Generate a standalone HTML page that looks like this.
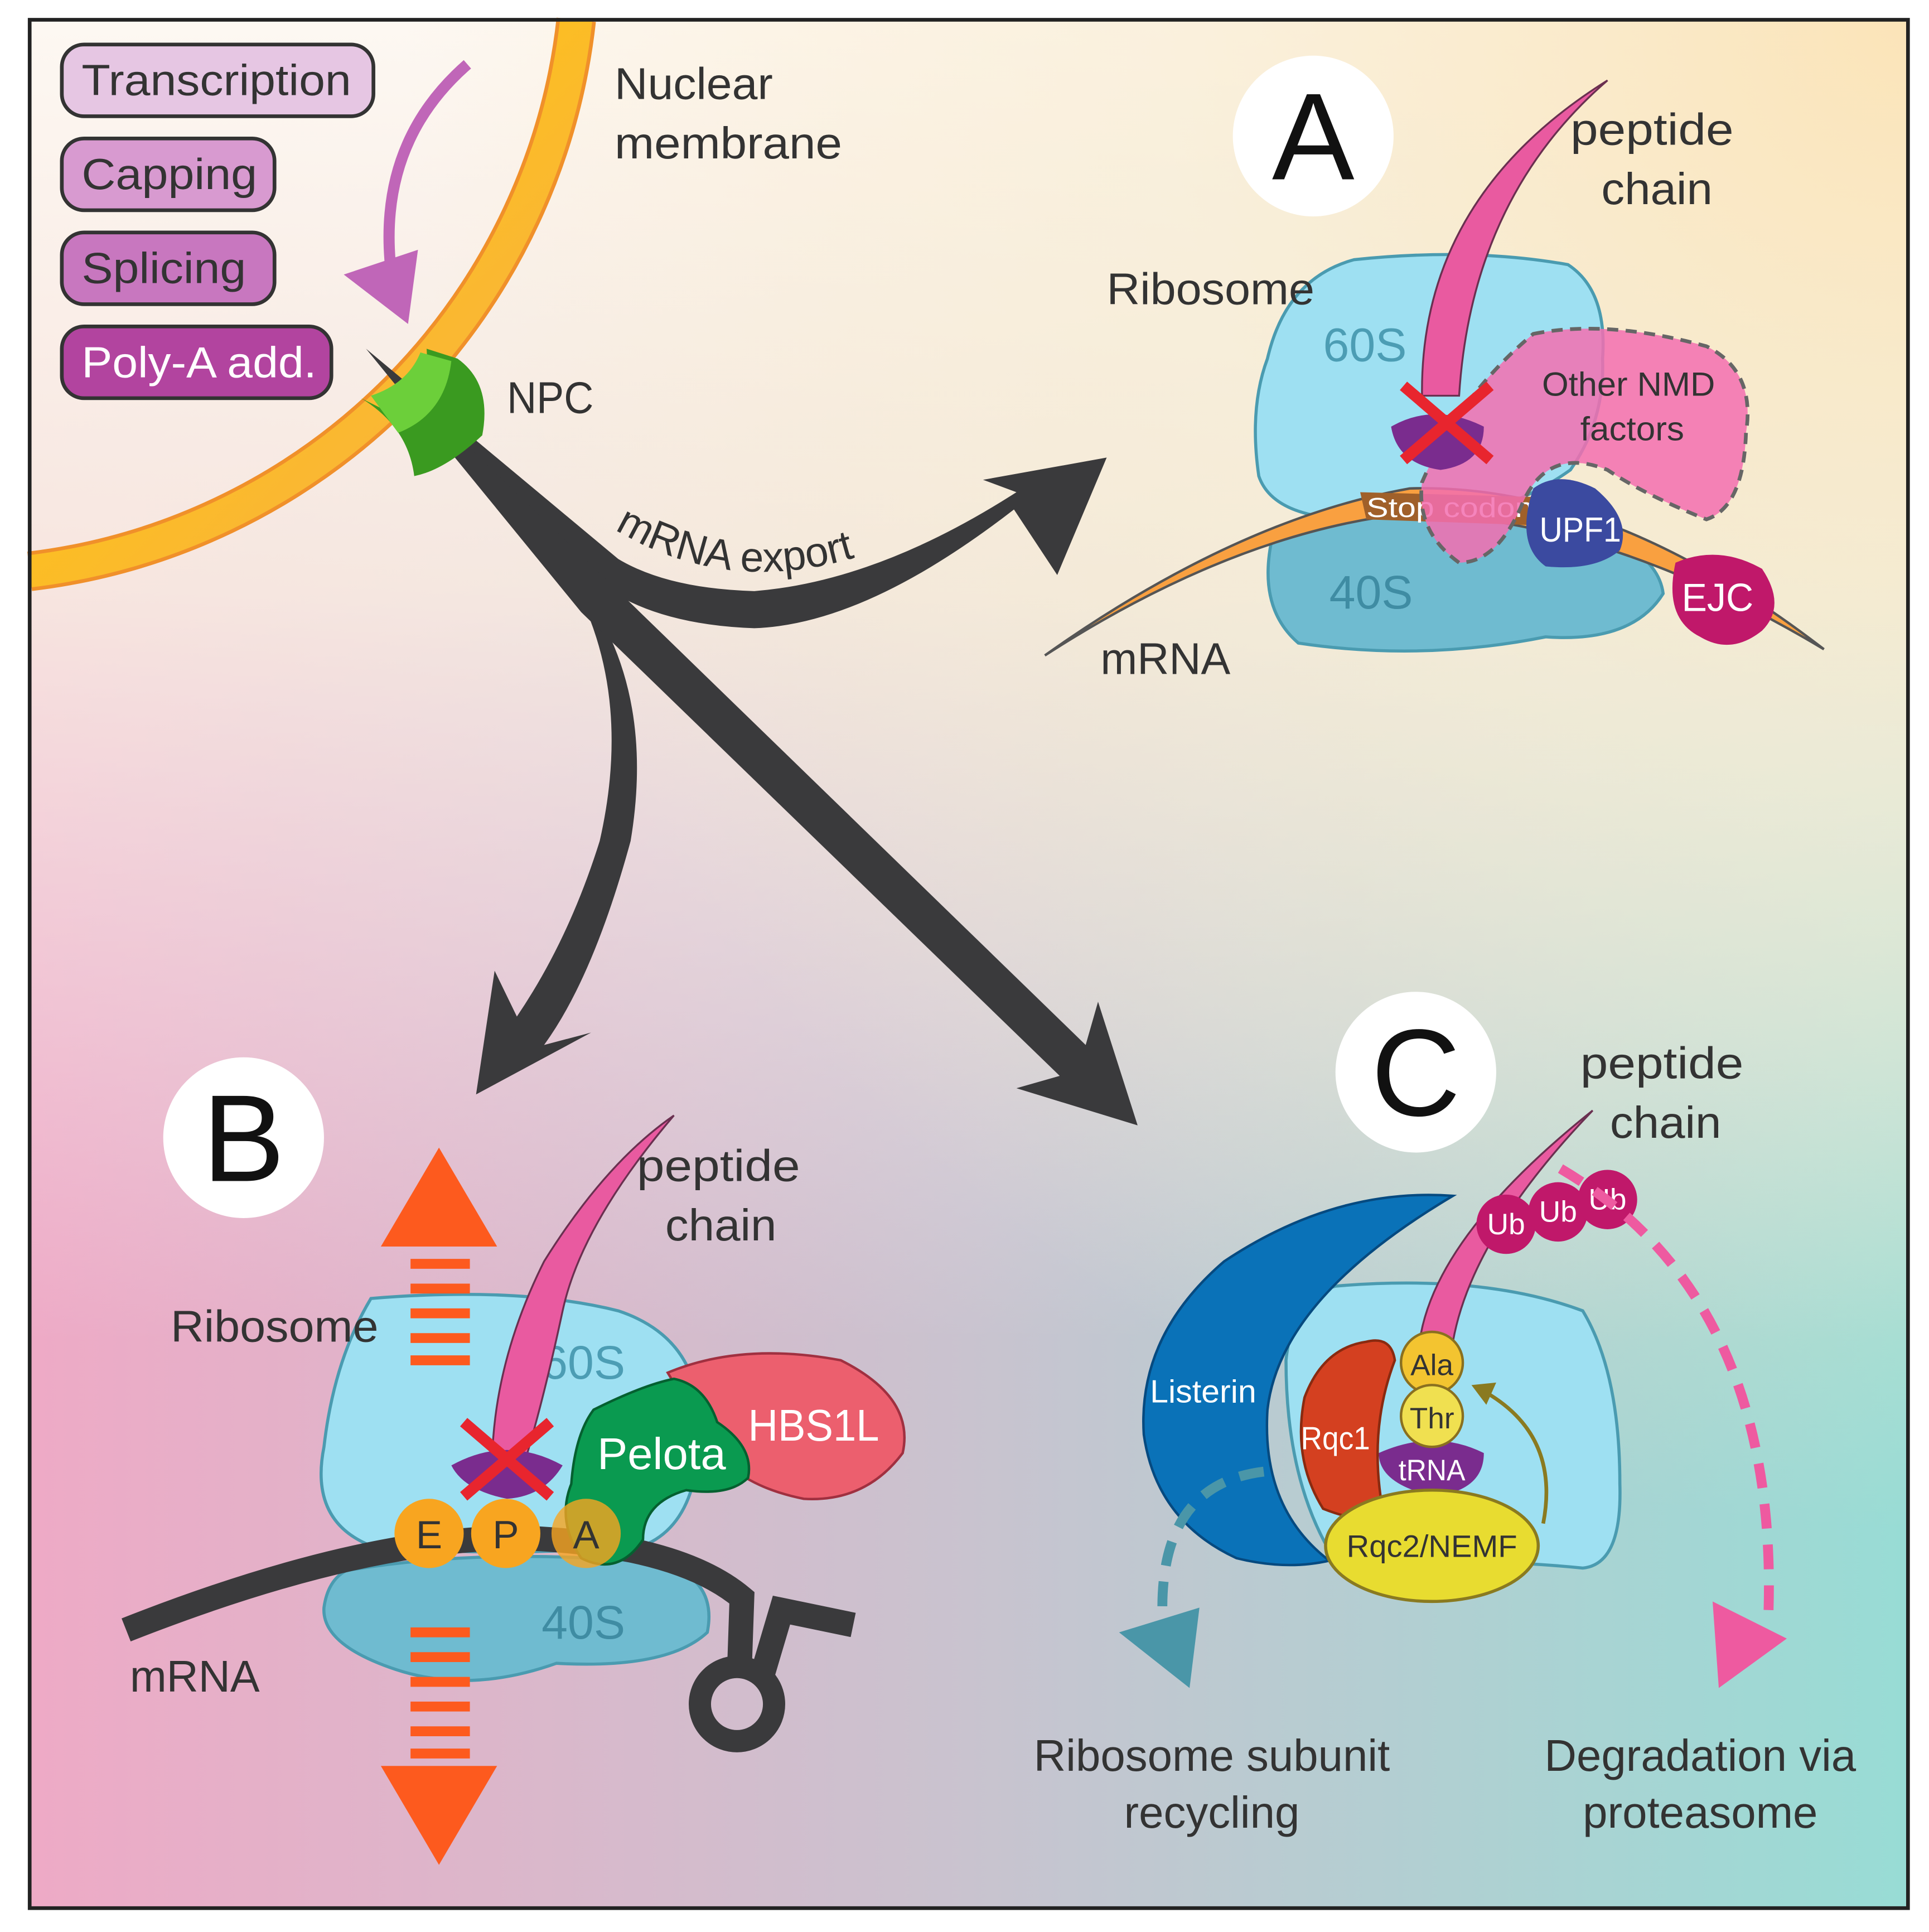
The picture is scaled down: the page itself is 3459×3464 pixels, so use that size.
<!DOCTYPE html>
<html><head><meta charset="utf-8"><style>
html,body{margin:0;padding:0;background:#fff}
svg{display:block}
text{font-family:"Liberation Sans",sans-serif}
</style></head><body>
<svg width="3459" height="3464" viewBox="0 0 1560 1562.3" preserveAspectRatio="none" xmlns="http://www.w3.org/2000/svg">
<defs>
<linearGradient id="gx" x1="0" y1="0" x2="1" y2="0">
<stop offset="0" stop-color="#eeaac6"/><stop offset="0.5" stop-color="#c9c3cf"/><stop offset="1" stop-color="#98dcd5"/></linearGradient>
<linearGradient id="gy" x1="0" y1="0" x2="0" y2="1">
<stop offset="0" stop-color="#fdf8f2" stop-opacity="1"/><stop offset="0.3" stop-color="#f9f0e4" stop-opacity="0.85"/><stop offset="0.7" stop-color="#f4eaf0" stop-opacity="0"/></linearGradient>
<radialGradient id="gtr" cx="1" cy="0" r="0.8">
<stop offset="0" stop-color="#fbe4b8" stop-opacity="1"/><stop offset="0.5" stop-color="#f8ecd0" stop-opacity="0.6"/><stop offset="1" stop-color="#fbe8c4" stop-opacity="0"/></radialGradient>
<linearGradient id="gm" x1="0" y1="0" x2="1" y2="1">
<stop offset="0" stop-color="#ffcc00"/><stop offset="1" stop-color="#f8ae4a"/></linearGradient>
<path id="exp" d="M497 428 Q600 490 722 440"/>
</defs>
<rect x="0" y="0" width="1560" height="1563" fill="#fff"/>
<rect x="24" y="16" width="1519" height="1527" fill="url(#gx)"/>
<rect x="24" y="16" width="1519" height="1527" fill="url(#gy)"/>
<rect x="24" y="16" width="1519" height="1527" fill="url(#gtr)"/>
<!-- membrane -->
<path d="M24 462 A505 505 0 0 0 466 16" fill="none" stroke="#f0902a" stroke-width="32"/>
<path d="M24 462 A505 505 0 0 0 466 16" fill="none" stroke="url(#gm)" stroke-width="26"/>
<rect x="24" y="16" width="1519" height="1527" fill="none" stroke="#222" stroke-width="3"/>
<!-- boxes -->
<g font-size="35" fill="#333">
<rect x="50" y="36" width="252" height="58" rx="18" fill="#e6c6e3" stroke="#333" stroke-width="3"/>
<text x="66" y="77" textLength="218" lengthAdjust="spacingAndGlyphs">Transcription</text>
<rect x="50" y="112" width="172" height="58" rx="18" fill="#d89ad0" stroke="#333" stroke-width="3"/>
<text x="66" y="153" textLength="142" lengthAdjust="spacingAndGlyphs">Capping</text>
<rect x="50" y="188" width="172" height="58" rx="18" fill="#c877bf" stroke="#333" stroke-width="3"/>
<text x="66" y="229" textLength="133" lengthAdjust="spacingAndGlyphs">Splicing</text>
<rect x="50" y="264" width="218" height="58" rx="18" fill="#b2449f" stroke="#333" stroke-width="3"/>
<text x="66" y="305" fill="#fff" textLength="190" lengthAdjust="spacingAndGlyphs">Poly-A add.</text>
</g>
<path d="M378 52 Q300 120 318 232" fill="none" stroke="#c066b8" stroke-width="9"/>
<path d="M278 222 L330 262 L338 202 Z" fill="#c066b8"/>
<g font-size="36" fill="#333">
<text x="497" y="80" textLength="128" lengthAdjust="spacingAndGlyphs">Nuclear</text>
<text x="497" y="128" textLength="184" lengthAdjust="spacingAndGlyphs">membrane</text>
<text x="410" y="334" textLength="70" lengthAdjust="spacingAndGlyphs">NPC</text>
</g>
<!-- dark arrows -->
<path d="M296 282 L480 468 Q525 505 610 508 Q700 505 820 412 L855 465 L895 370 L795 388 L822 398 Q710 470 610 478 Q540 476 500 452 Z" fill="#3a3a3c"/>
<path d="M296 282 L472 478 Q530 560 510 680 Q480 790 440 845 L478 835 L385 885 L400 785 L418 822 Q460 760 485 680 Q510 570 470 484 Z" fill="#3a3a3c"/>
<path d="M296 282 L500 478 L878 845 L888 810 L920 910 L822 880 L857 870 L470 495 Z" fill="#3a3a3c"/>
<!-- NPC -->
<path d="M292 322 Q330 345 335 385 Q360 380 390 352 Q398 310 370 290 L345 282 Q348 320 320 336 Z" fill="#3a9a20"/>
<path d="M300 320 Q330 310 340 285 L365 292 Q360 335 322 350 Z" fill="#6ccf3a"/>
<text font-size="34" fill="#333"><textPath href="#exp">mRNA export</textPath></text>
<!-- Panel A -->
<circle cx="1062" cy="110" r="65" fill="#fff"/>
<text x="1062" y="145" font-size="100" text-anchor="middle" fill="#111">A</text>
<path d="M1095 210 Q1190 200 1268 214 Q1300 235 1296 290 Q1298 340 1270 380 Q1200 430 1100 420 Q1030 420 1018 385 Q1010 330 1025 290 Q1040 225 1095 210 Z" fill="#9ee0f2" stroke="#4a9bb0" stroke-width="2.5"/>
<g font-size="36" fill="#333">
<text x="1270" y="117" textLength="132" lengthAdjust="spacingAndGlyphs">peptide</text>
<text x="1295" y="165" textLength="90" lengthAdjust="spacingAndGlyphs">chain</text>
<text x="895" y="246" textLength="168" lengthAdjust="spacingAndGlyphs">Ribosome</text>
</g>
<path d="M1030 430 Q1120 400 1260 420 Q1340 440 1345 480 Q1320 520 1250 515 Q1150 535 1050 520 Q1015 490 1030 430 Z" fill="#6fbbd0" stroke="#4a9bb0" stroke-width="2.5"/>
<text x="1070" y="292" font-size="38" fill="#4c9db4">60S</text>
<text x="1075" y="492" font-size="38" fill="#3f8ca3">40S</text>
<path d="M845 530 Q1000 420 1140 395 Q1300 390 1475 525 Q1300 420 1140 415 Q1000 430 845 530 Z" fill="#f9a040" stroke="#555" stroke-width="2"/>
<path d="M1100 398 L1245 402 L1250 425 L1105 420 Z" fill="#a0602a"/>
<text x="1105" y="418" font-size="22" fill="#fff" textLength="135" lengthAdjust="spacingAndGlyphs">Stop codon</text>
<path d="M1240 270 Q1300 258 1380 280 Q1420 300 1412 350 Q1410 410 1380 420 Q1330 400 1300 380 Q1250 360 1230 410 Q1210 455 1180 455 Q1145 430 1150 390 Q1180 320 1240 270 Z" fill="#f36fb0" fill-opacity="0.85" stroke="#666" stroke-width="3" stroke-dasharray="9 6"/>
<text x="1247" y="320" font-size="27" fill="#333" textLength="140" lengthAdjust="spacingAndGlyphs">Other NMD</text>
<text x="1278" y="356" font-size="27" fill="#333" textLength="84" lengthAdjust="spacingAndGlyphs">factors</text>
<path d="M1150 320 Q1148 160 1300 65 Q1190 160 1180 320 Z" fill="#e95aa0" stroke="#6a3050" stroke-width="1.5"/>
<path d="M1125 345 Q1160 325 1200 345 Q1200 375 1165 380 Q1130 375 1125 345 Z" fill="#7a2c8e"/>
<path d="M1135 312 L1205 372 M1205 312 L1135 372" stroke="#e8252e" stroke-width="9"/>
<path d="M1240 395 Q1260 380 1290 395 Q1320 420 1310 445 Q1290 462 1250 458 Q1225 440 1240 395 Z" fill="#3b4aa0"/>
<text x="1245" y="438" font-size="28" fill="#fff" textLength="66" lengthAdjust="spacingAndGlyphs">UPF1</text>
<path d="M1355 455 Q1390 440 1425 460 Q1445 490 1425 510 Q1400 530 1375 515 Q1345 500 1355 455 Z" fill="#c0186a"/>
<text x="1360" y="494" font-size="32" fill="#fff" textLength="58" lengthAdjust="spacingAndGlyphs">EJC</text>
<text x="890" y="545" font-size="36" fill="#333" textLength="105" lengthAdjust="spacingAndGlyphs">mRNA</text>
<!-- Panel B -->
<circle cx="197" cy="920" r="65" fill="#fff"/>
<text x="197" y="955" font-size="100" text-anchor="middle" fill="#111">B</text>
<path d="M300 1050 Q420 1040 500 1060 Q560 1080 565 1140 Q570 1230 520 1250 Q400 1260 300 1250 Q250 1230 262 1170 Q270 1100 300 1050 Z" fill="#9ee0f2" stroke="#4a9bb0" stroke-width="2.5"/>
<path d="M280 1270 Q400 1250 540 1265 Q580 1280 572 1320 Q540 1350 450 1345 Q380 1370 320 1350 Q260 1330 262 1300 Q265 1278 280 1270 Z" fill="#6fbbd0" stroke="#4a9bb0" stroke-width="2.5"/>
<text x="438" y="1115" font-size="38" fill="#4c9db4">60S</text>
<text x="438" y="1325" font-size="38" fill="#3f8ca3">40S</text>
<path d="M102 1318 Q300 1240 430 1244 Q550 1250 600 1292 L598 1350" fill="none" stroke="#3a3a3c" stroke-width="20"/>
<circle cx="596" cy="1378" r="30" fill="none" stroke="#3a3a3c" stroke-width="18"/>
<path d="M616 1356 L632 1302 L690 1314" fill="none" stroke="#3a3a3c" stroke-width="20"/>
<path d="M398 1180 Q400 1100 440 1020 Q490 940 545 902 Q470 990 455 1060 Q440 1130 425 1180 Z" fill="#e95aa0" stroke="#6a3050" stroke-width="1.5"/>
<path d="M365 1185 Q410 1160 455 1185 Q440 1210 410 1212 Q375 1205 365 1185 Z" fill="#7a2c8e"/>
<path d="M375 1150 L445 1210 M445 1150 L375 1210" stroke="#e8252e" stroke-width="9"/>
<path d="M540 1110 Q600 1085 680 1100 Q740 1130 730 1175 Q700 1215 650 1212 Q590 1200 570 1160 Z" fill="#ec5f6e" stroke="#a03040" stroke-width="2"/>
<text x="605" y="1165" font-size="36" fill="#fff" textLength="106" lengthAdjust="spacingAndGlyphs">HBS1L</text>
<path d="M480 1140 Q520 1120 545 1115 Q570 1120 580 1150 Q610 1170 605 1195 Q590 1210 555 1205 Q520 1215 520 1245 Q500 1275 470 1260 Q450 1230 462 1200 Q465 1160 480 1140 Z" fill="#0a9a50" stroke="#056030" stroke-width="2"/>
<text x="483" y="1188" font-size="36" fill="#fff" textLength="104" lengthAdjust="spacingAndGlyphs">Pelota</text>
<g font-size="32" fill="#333" text-anchor="middle">
<circle cx="347" cy="1240" r="28" fill="#f8a520"/><text x="347" y="1252">E</text>
<circle cx="409" cy="1240" r="28" fill="#f8a520"/><text x="409" y="1252">P</text>
<circle cx="474" cy="1240" r="28" fill="#f8a520" fill-opacity="0.8"/><text x="474" y="1252">A</text>
</g>
<path d="M308 1008 L355 928 L402 1008 Z" fill="#fd5a1e"/>
<path d="M308 1428 L355 1508 L402 1428 Z" fill="#fd5a1e"/>
<g stroke="#fd5a1e" stroke-width="8">
<path d="M332 1022 H380 M332 1042 H380 M332 1062 H380 M332 1082 H380 M332 1100 H380"/>
<path d="M332 1320 H380 M332 1340 H380 M332 1360 H380 M332 1380 H380 M332 1400 H380 M332 1418 H380"/>
</g>
<g font-size="36" fill="#333">
<text x="515" y="955" textLength="132" lengthAdjust="spacingAndGlyphs">peptide</text>
<text x="538" y="1003" textLength="90" lengthAdjust="spacingAndGlyphs">chain</text>
<text x="138" y="1085" textLength="168" lengthAdjust="spacingAndGlyphs">Ribosome</text>
<text x="105" y="1368" textLength="105" lengthAdjust="spacingAndGlyphs">mRNA</text>
</g>
<!-- Panel C -->
<circle cx="1145" cy="867" r="65" fill="#fff"/>
<text x="1145" y="902" font-size="100" text-anchor="middle" fill="#111">C</text>
<g font-size="36" fill="#333">
<text x="1278" y="872" textLength="132" lengthAdjust="spacingAndGlyphs">peptide</text>
<text x="1302" y="920" textLength="90" lengthAdjust="spacingAndGlyphs">chain</text>
</g>
<path d="M1080 1040 Q1200 1030 1280 1060 Q1310 1110 1310 1200 Q1312 1265 1280 1268 Q1200 1260 1080 1262 Q1040 1200 1040 1100 Q1045 1050 1080 1040 Z" fill="#9ee0f2" stroke="#4a9bb0" stroke-width="2.5"/>
<path d="M1175 967 Q1080 960 990 1020 Q920 1080 925 1160 Q935 1230 1000 1260 Q1040 1270 1075 1262 Q1020 1220 1025 1140 Q1035 1050 1175 967 Z" fill="#0a72b8" stroke="#064a80" stroke-width="2"/>
<text x="930" y="1134" font-size="26" fill="#fff" textLength="86" lengthAdjust="spacingAndGlyphs">Listerin</text>
<path d="M1105 1085 Q1125 1080 1128 1100 Q1105 1160 1120 1230 Q1095 1230 1070 1220 Q1045 1180 1055 1130 Q1070 1090 1105 1085 Z" fill="#d44020" stroke="#8a2a10" stroke-width="2"/>
<text x="1052" y="1172" font-size="26" fill="#fff" textLength="56" lengthAdjust="spacingAndGlyphs">Rqc1</text>
<path d="M1148 1085 Q1160 1000 1288 898 Q1190 1000 1175 1085 Z" fill="#e95aa0" stroke="#6a3050" stroke-width="1.5"/>
<path d="M1115 1175 Q1160 1155 1200 1175 Q1200 1205 1160 1210 Q1115 1200 1115 1175 Z" fill="#7a2c8e"/>
<text x="1131" y="1197" font-size="24" fill="#fff" textLength="54" lengthAdjust="spacingAndGlyphs">tRNA</text>
<circle cx="1158" cy="1102" r="25" fill="#f3c430" stroke="#8a7020" stroke-width="2"/>
<text x="1158" y="1112" font-size="24" text-anchor="middle" fill="#333">Ala</text>
<circle cx="1158" cy="1145" r="25" fill="#f0e050" stroke="#8a7020" stroke-width="2"/>
<text x="1158" y="1155" font-size="24" text-anchor="middle" fill="#333">Thr</text>
<path d="M1248 1232 Q1262 1160 1200 1125" fill="none" stroke="#8a7a20" stroke-width="3"/>
<path d="M1190 1120 L1210 1118 L1202 1136 Z" fill="#8a7a20"/>
<ellipse cx="1158" cy="1250" rx="86" ry="45" fill="#e8dc30" stroke="#8a7a20" stroke-width="2.5"/>
<text x="1158" y="1259" font-size="25" text-anchor="middle" fill="#333" textLength="138" lengthAdjust="spacingAndGlyphs">Rqc2/NEMF</text>
<g fill="#c0186a" font-size="24" text-anchor="middle">
<circle cx="1218" cy="990" r="24"/><circle cx="1260" cy="980" r="24"/><circle cx="1300" cy="970" r="24"/>
<text x="1218" y="998" fill="#fff">Ub</text><text x="1260" y="988" fill="#fff">Ub</text><text x="1300" y="978" fill="#fff">Ub</text>
</g>
<path d="M1262 945 Q1440 1050 1430 1310" fill="none" stroke="#ee5aa0" stroke-width="8" stroke-dasharray="20 13"/>
<path d="M1385 1295 L1445 1325 L1390 1365 Z" fill="#ee5aa0"/>
<path d="M1022 1190 Q940 1200 940 1300" fill="none" stroke="#4a96a8" stroke-width="8" stroke-dasharray="20 13"/>
<path d="M905 1320 L970 1300 L962 1365 Z" fill="#4a96a8"/>
<g font-size="36" fill="#333" text-anchor="middle">
<text x="980" y="1432" textLength="288" lengthAdjust="spacingAndGlyphs">Ribosome subunit</text>
<text x="980" y="1478" textLength="142" lengthAdjust="spacingAndGlyphs">recycling</text>
<text x="1375" y="1432" textLength="252" lengthAdjust="spacingAndGlyphs">Degradation via</text>
<text x="1375" y="1478" textLength="190" lengthAdjust="spacingAndGlyphs">proteasome</text>
</g>
</svg>
</body></html>
